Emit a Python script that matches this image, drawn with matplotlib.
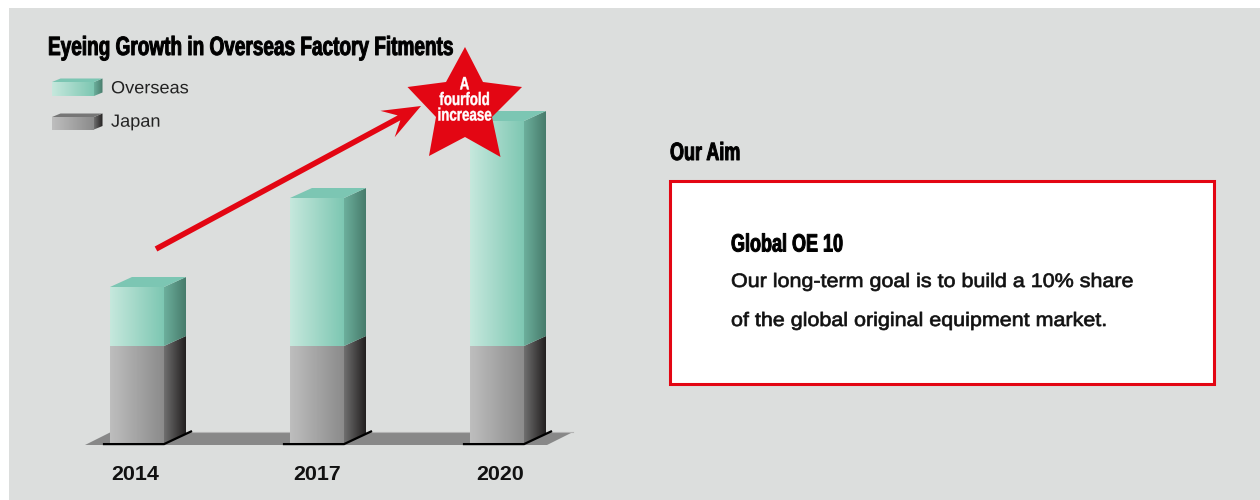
import numpy as np
import matplotlib
matplotlib.use("Agg")
import matplotlib.pyplot as plt
from matplotlib.colors import LinearSegmentedColormap
from matplotlib.patches import Polygon, Rectangle
from matplotlib.transforms import Affine2D
from matplotlib import patheffects as pe

# Chart values (index units: one unit is one pixel of bar height)
years = ["2014", "2017", "2020"]
japan = [97.5, 97.5, 97.5]
overseas = [59, 148, 225]
series_names = ["Overseas", "Japan"]

title = "Eyeing Growth in Overseas Factory Fitments"
star_lines = "A\nfourfold\nincrease"
aim_heading = "Our Aim"
aim_title = "Global OE 10"
aim_lines = ["Our long-term goal is to build a 10% share",
             "of the global original equipment market."]

PANEL = "#dcdedd"
RED = "#e30613"
FONT = ["Liberation Sans", "DejaVu Sans"]

STYLES = {
    "Overseas": dict(front=("#c6e8dd", "#7dc7b2"), side=("#6caf9c", "#477b6b"), top="#7cc6b3"),
    "Japan": dict(front=("#bebebe", "#8b8b8b"), side=("#6f6f6f", "#221f1f"), top="#767676"),
}


class Stretch(pe.AbstractPathEffect):
    """Scale glyphs horizontally about a pixel column, optionally thickening them."""

    def __init__(self, sx, x0, stroke=0.0):
        super().__init__()
        self.sx, self.x0, self.stroke = sx, x0, stroke

    def draw_path(self, renderer, gc, tpath, affine, rgbFace=None):
        squeezed = affine + Affine2D().translate(-self.x0, 0).scale(self.sx, 1).translate(self.x0, 0)
        gc0 = renderer.new_gc()
        gc0.copy_properties(gc)
        if self.stroke:
            gc0.set_linewidth(self.stroke)
            gc0.set_foreground(rgbFace)
        renderer.draw_path(gc0, tpath, squeezed, rgbFace)
        gc0.restore()


def gradient(ax, x0, x1, y0, y1, colors, clip, zorder):
    cmap = LinearSegmentedColormap.from_list("g", colors)
    pad = 2
    im = ax.imshow(np.linspace(0, 1, 128)[None, :], cmap=cmap, aspect="auto",
                   extent=(x0, x1, y0 - pad, y1 + pad), zorder=zorder, interpolation="bilinear")
    patch = Polygon(clip, closed=True, transform=ax.transData, fc="none", ec="none")
    ax.add_patch(patch)
    im.set_clip_path(patch)


def cuboid(ax, x0, x1, y0, y1, dx, dy, style, zorder, top=True):
    """Front, side and optional top faces of a box; (dx, dy) is the depth offset."""
    gradient(ax, x0, x1, min(y0, y1), max(y0, y1), style["front"],
             [(x0, y0), (x1, y0), (x1, y1), (x0, y1)], zorder)
    gradient(ax, x1, x1 + dx, min(y0, y1, y0 + dy, y1 + dy), max(y0, y1, y0 + dy, y1 + dy), style["side"],
             [(x1, y0), (x1 + dx, y0 + dy), (x1 + dx, y1 + dy), (x1, y1)], zorder)
    if top:
        ax.add_patch(Polygon([(x0, y1), (x1, y1), (x1 + dx, y1 + dy), (x0 + dx, y1 + dy)],
                             fc=style["top"], ec="none", zorder=zorder))


def pixel_layer(fig, zorder):
    """Full-figure axes in pixel coordinates, y running downwards."""
    ax = fig.add_axes([0, 0, 1, 1], zorder=zorder)
    ax.set_xlim(0, 1260)
    ax.set_ylim(500, 0)
    ax.axis("off")
    ax.patch.set_alpha(0)
    return ax


fig = plt.figure(figsize=(12.6, 5), dpi=100, facecolor="white")

page = pixel_layer(fig, 0)
page.add_patch(Rectangle((9, 8), 1251, 492, fc=PANEL, ec="none", zorder=0))

# Chart layer: x in category steps, y in value units
left_px, right_px, base_px, top_px = 85, 573, 443.5, 90
step_px, first_centre_px = 180, 137
chart = fig.add_axes([left_px / 1260, (500 - base_px) / 500,
                      (right_px - left_px) / 1260, (base_px - top_px) / 500], zorder=1)
chart.patch.set_alpha(0)
xpx = 1 / step_px
half = 27 * xpx
depth_x, depth_y = 22 * xpx, 10

# Floor slab running behind the bars
xlo = (left_px - first_centre_px) * xpx
xhi = (right_px - first_centre_px) * xpx
chart.add_patch(Polygon([(xlo, -1.5), (xhi - 26 * xpx, -1.5), (xhi, 11.5), (xlo + 26 * xpx, 11.5)],
                        fc="#888888", ec="none", zorder=1, clip_on=False))
chart.plot([xlo + 26 * xpx, xhi], [11.5, 11.5], color="#b4b4b4", lw=0.8, zorder=1.1, clip_on=False)

for i, (jp, ov) in enumerate(zip(japan, overseas)):
    x0, x1 = i - half, i + half
    cuboid(chart, x0, x1, 0, jp, depth_x, depth_y, STYLES["Japan"], 3, top=False)
    cuboid(chart, x0, x1, jp, jp + ov, depth_x, depth_y, STYLES["Overseas"], 4)
    # contact shadow under the front and side faces
    chart.plot([x0 - 6 * xpx, x1, x1 + 27 * xpx], [-0.6, -0.6, 12], color="black", lw=1.6,
               solid_joinstyle="miter", zorder=5, clip_on=False)

chart.set_xlim(xlo, xhi)
chart.set_ylim(0, base_px - top_px)
chart.axis("off")

# Year labels beneath the bars
for i, (year, nudge) in enumerate(zip(years, [-1.5, 0, 3])):
    chart.annotate(year, (i, 0), xytext=(nudge * 0.72, -26.2), textcoords="offset points",
                   ha="center", va="baseline", fontsize=15.4, fontweight="bold",
                   family=FONT, color="#111111", annotation_clip=False)

# Legend swatches
legend_y = [(96, 82), (129.5, 117)]
legend_base = [93.3, 126.7]
for name, (yb, yt), ybase in zip(series_names, legend_y, legend_base):
    cuboid(page, 52, 94, yb, yt, 8.5, -3.5, STYLES[name], 5)
    page.text(111, ybase, name, fontsize=12.7, family=FONT, color="#222222",
              va="baseline", ha="left", zorder=6, path_effects=[Stretch(1.03, 111)])
page.set_xlim(0, 1260)
page.set_ylim(500, 0)

page.text(48, 55, title, fontsize=19, fontweight="bold", family=FONT, color="black",
          va="baseline", ha="left", path_effects=[Stretch(0.72, 48, 0.7)])

# Arrow and star sit above the bars
callout = pixel_layer(fig, 2)

tail = np.array([156.0, 249.0])
tip = np.array([421.0, 106.0])
u = (tip - tail) / np.hypot(*(tip - tail))
n = np.array([-u[1], u[0]])
arrow = [tail + n * 2.8, tip - u * 25 + n * 2.8, tip - u * 38 + n * 15, tip,
         tip - u * 38 - n * 15, tip - u * 25 - n * 2.8, tail - n * 2.8]
callout.add_patch(Polygon(arrow, closed=True, fc=RED, ec="none", zorder=8))

star = [(465, 47), (483, 82), (522, 87), (492, 117), (500.5, 157), (465, 137),
        (429, 156), (436, 117), (407.5, 87), (446, 82)]
callout.add_patch(Polygon(star, closed=True, fc=RED, ec="none", zorder=9))
callout.text(464.5, 100.5, star_lines, fontsize=13, fontweight="bold", family=FONT, color="white",
             ha="center", va="center", linespacing=0.89, zorder=10,
             path_effects=[Stretch(0.74, 464.5, 0.3)])

# Aim panel
page.text(670, 160, aim_heading, fontsize=18, fontweight="bold", family=FONT, color="black",
          va="baseline", ha="left", path_effects=[Stretch(0.72, 670, 0.7)])
page.add_patch(Rectangle((670, 181), 543.7, 203, fc="white", ec=RED, lw=2.2, zorder=2))
page.text(731, 251.5, aim_title, fontsize=18, fontweight="bold", family=FONT, color="black",
          va="baseline", ha="left", zorder=3, path_effects=[Stretch(0.72, 731, 0.7)])
for text, y in zip(aim_lines, [287, 326]):
    page.text(731, y, text, fontsize=14, family=FONT, color="#111111", va="baseline", ha="left",
              zorder=3, path_effects=[Stretch(1.105, 731, 0.5)])

fig.savefig("out.png", dpi=100, facecolor="white")
